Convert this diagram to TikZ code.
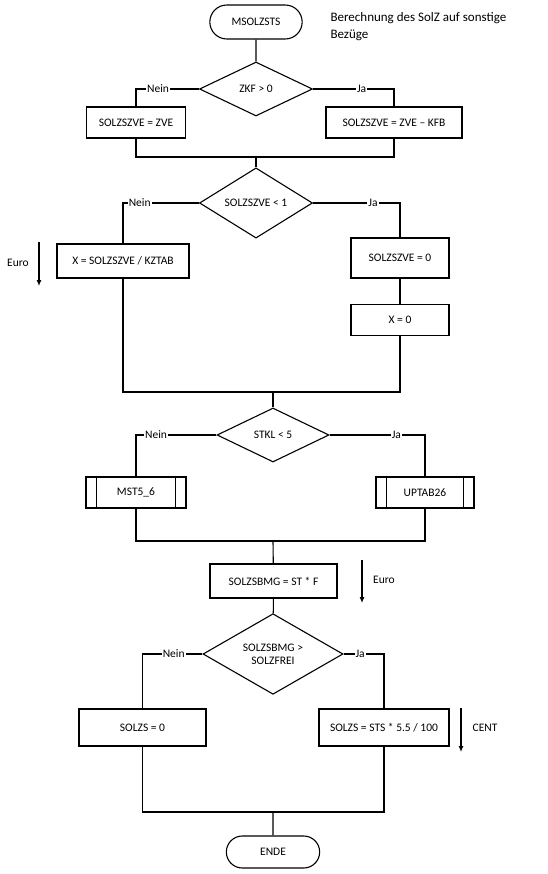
\documentclass[tikz,border=0pt]{standalone}
\usepackage{fontspec}
\setmainfont{Carlito}
\usetikzlibrary{positioning}
\usetikzlibrary{shapes.geometric}
\usetikzlibrary{shapes.misc}
\usetikzlibrary{arrows.meta}

\begin{document}
\begin{tikzpicture}[
		x=1pt, y=-1pt,
		every node/.style={font=\fontsize{11.5}{13}\selectfont},
		line/.style={draw, line width=1.1pt},
		box/.style={draw, line width=1.1pt, minimum height=31pt, inner sep=2pt, align=center},
		term/.style={draw, line width=1.1pt, rounded rectangle, minimum height=34pt, minimum width=99pt},
		decision/.style={draw, line width=1.1pt, diamond, inner sep=0pt, align=center},
		branch/.style={fill=white, inner sep=1pt},
		unit/.style={draw, line width=1.1pt, -{Latex[length=6pt, width=5pt]}}
	]
	\useasboundingbox (0,0) rectangle (547,874);

	% Start
	\node[term] (start) at (256,22) {MSOLZSTS};
	\node[anchor=west, align=left, font=\fontsize{13}{17}\selectfont] (note) at (327,26.5)
	{Berechnung des SolZ auf sonstige\\Bezüge};

	% ZKF > 0
	\node[decision, minimum width=113pt, minimum height=54pt] (zkf) at (256,89) {ZKF > 0};
	\node[box, minimum width=99pt] (zve) at (136,122.5) {SOLZSZVE = ZVE};
	\node[box, minimum width=136pt] (kfb) at (394,122.5) {SOLZSZVE = ZVE – KFB};
	\coordinate (join1) at (256,157);

	% SOLZSZVE < 1
	\node[decision, minimum width=113pt, minimum height=52pt] (szv) at (256,203) {SOLZSZVE < 1};
	\node[box, minimum width=132pt, minimum height=34pt] (xtab) at (123,261) {X = SOLZSZVE / KZTAB};
	\node[box, minimum width=98pt, minimum height=40pt] (szv0) at (400,258) {SOLZSZVE = 0};
	\node[box, minimum width=98pt, below=25pt of szv0] (x0) {X = 0};
	\coordinate (join2) at (273,392);

	% STKL < 5
	\node[decision, minimum width=112pt, minimum height=54pt] (stkl) at (273,435) {STKL < 5};
	\node[box, minimum width=100pt] (mst) at (136,492.5) {MST5\_6};
	\node[box, minimum width=98pt] (uptab) at (425,492.5) {UPTAB26};
	\coordinate (join3) at (273,541);
	\node[box, minimum width=127pt, minimum height=34pt] (bmg) at (273.5,581) {SOLZSBMG = ST * F};

	% SOLZSBMG > SOLZFREI
	\node[decision, minimum width=140pt, minimum height=66pt] (frei) at (273,654) {SOLZSBMG >\\SOLZFREI};
	\node[box, minimum width=127pt, minimum height=37pt] (sz0) at (142.5,727.5) {SOLZS = 0};
	\node[box, minimum width=130pt, minimum height=37pt] (sts) at (384,727.5) {SOLZS = STS * 5.5 / 100};
	\coordinate (join4) at (273,812);

	% End
	\node[term, minimum width=100pt, minimum height=32pt] (ende) at (273,852) {ENDE};

	% Sub-process bars
	\foreach \n in {mst, uptab} {
		\draw[line] ([xshift=11pt]\n.north west) -- ([xshift=11pt]\n.south west);
		\draw[line] ([xshift=-11pt]\n.north east) -- ([xshift=-11pt]\n.south east);
	}

	% Connectors
	\draw[line] (start) -- (zkf);
	\draw[line] (zkf.west) -- node[branch, pos=0.65] {Nein} (zkf.west -| zve) -- (zve);
	\draw[line] (zkf.east) -- node[branch, pos=0.6] {Ja} (zkf.east -| kfb) -- (kfb);
	\draw[line] (zve) |- (join1) -| (kfb);
	\draw[line] (join1) -- (szv);

	\draw[line] (szv.west) -- node[branch, pos=0.78] {Nein} (szv.west -| xtab) -- (xtab);
	\draw[line] (szv.east) -- node[branch, pos=0.69] {Ja} (szv.east -| szv0) -- (szv0);
	\draw[line] (szv0) -- (x0);
	\draw[line] (xtab) |- (join2) -| (x0);
	\draw[line] (join2) -- (stkl);

	\draw[line] (stkl.west) -- node[branch, pos=0.75] {Nein} (stkl.west -| mst) -- (mst);
	\draw[line] (stkl.east) -- node[branch, pos=0.7] {Ja} (stkl.east -| uptab) -- (uptab);
	\draw[line] (mst) |- (join3) -| (uptab);
	\draw[line] (join3) -- (bmg);
	\draw[line] (bmg) -- (frei);

	\draw[line] (frei.west) -- node[branch, pos=0.48] {Nein} (frei.west -| sz0) -- (sz0);
	\draw[line] (frei.east) -- node[branch, pos=0.41] {Ja} (frei.east -| sts) -- (sts);
	\draw[line] (sz0) |- (join4) -| (sts);
	\draw[line] (join4) -- (ende);

	% Units
	\coordinate (euroA) at (39,242);
	\coordinate (euroB) at (39,286);
	\draw[unit] (euroA) -- (euroB);
	\node (euro1) at (18,263) {Euro};

	\coordinate (euroC) at (362,560);
	\coordinate (euroD) at (362,603);
	\draw[unit] (euroC) -- (euroD);
	\node (euro2) at (384,580) {Euro};

	\coordinate (centA) at (461,708);
	\coordinate (centB) at (461,752);
	\draw[unit] (centA) -- (centB);
	\node (cent) at (485,728) {CENT};

\end{tikzpicture}
\end{document}
